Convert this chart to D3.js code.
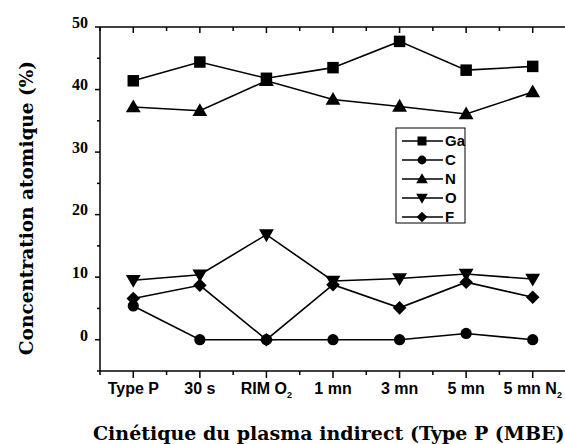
<!DOCTYPE html>
<html>
<head>
<meta charset="utf-8">
<script src="https://cdn.jsdelivr.net/npm/d3@7"></script>
<style>
  body { margin: 0; background: #fff; }
  svg { display: block; }
</style>
</head>
<body>
<div id="chart"></div>
<script>
// Categories (x axis)
var catLabels = ['Type P', '30 s', 'RIM O', '1 mn', '3 mn', '5 mn', '5 mn N'];
var catSubs = ['', '', '2', '', '', '', '2'];

// Series values (%)
var seriesNames = ['Ga', 'C', 'N', 'O', 'F'];
var gaValues = [41.4, 44.4, 41.8, 43.5, 47.7, 43.1, 43.7];
var cValues = [5.4, 0, 0, 0, 0, 1.0, 0];
var nValues = [37.2, 36.6, 41.4, 38.4, 37.3, 36.1, 39.6];
var oValues = [9.5, 10.4, 16.8, 9.4, 9.8, 10.5, 9.7];
var fValues = [6.6, 8.7, 0, 8.8, 5.1, 9.2, 6.8];

var yTicks = [0, 10, 20, 30, 40, 50];

var series = [
    {name: 'Ga', values: gaValues, symbol: 'square'},
    {name: 'C', values: cValues, symbol: 'circle'},
    {name: 'N', values: nValues, symbol: 'up'},
    {name: 'O', values: oValues, symbol: 'down'},
    {name: 'F', values: fValues, symbol: 'diamond'}
];

var width = 565, height = 444;
var margin = {top: 27, right: 0, bottom: 73, left: 100};

var svg = d3.select('#chart').append('svg')
    .attr('width', width)
    .attr('height', height);

var x = d3.scaleLinear().domain([0.5, 7.5]).range([margin.left, 566]);
var y = d3.scaleLinear().domain([-5, 50]).range([height - margin.bottom, margin.top]);

// Marker shape helper
function marker(sel, type, s) {
    if (type === 'square') {
        sel.append('path').attr('d', d3.symbol(d3.symbolSquare, s * s)());
    } else if (type === 'circle') {
        sel.append('path').attr('d', d3.symbol(d3.symbolCircle, Math.PI * s * s / 4.2)());
    } else if (type === 'up') {
        sel.append('path').attr('d', d3.symbol(d3.symbolTriangle, s * s * 0.72)()).attr('transform', 'translate(0,1)');
    } else if (type === 'down') {
        sel.append('path').attr('d', d3.symbol(d3.symbolTriangle, s * s * 0.72)()).attr('transform', 'translate(0,-1) rotate(180)');
    } else if (type === 'diamond') {
        sel.append('path').attr('d', d3.symbol(d3.symbolSquare, s * s * 0.7)()).attr('transform', 'rotate(45)');
    }
}

var axisG = svg.append('g').attr('stroke', '#000').attr('stroke-width', 1.5).attr('fill', 'none');

// Frame
axisG.append('line').attr('x1', x(0.5)).attr('x2', x(7.5)).attr('y1', y(50)).attr('y2', y(50));
axisG.append('line').attr('x1', x(0.5)).attr('x2', x(7.5)).attr('y1', y(-5)).attr('y2', y(-5));
axisG.append('line').attr('x1', x(0.5)).attr('x2', x(0.5)).attr('y1', y(50)).attr('y2', y(-5));

// X ticks (bottom outward, top inward)
var xMajor = d3.range(1, 8);
var xMinor = d3.range(0.5, 8, 1);
xMajor.forEach(function(v) {
    axisG.append('line').attr('x1', x(v)).attr('x2', x(v)).attr('y1', y(-5)).attr('y2', y(-5) + 7);
    axisG.append('line').attr('x1', x(v)).attr('x2', x(v)).attr('y1', y(50)).attr('y2', y(50) + 6);
});
xMinor.forEach(function(v) {
    axisG.append('line').attr('x1', x(v)).attr('x2', x(v)).attr('y1', y(-5)).attr('y2', y(-5) + 4);
    axisG.append('line').attr('x1', x(v)).attr('x2', x(v)).attr('y1', y(50)).attr('y2', y(50) + 4);
});

// Y ticks (outward)
yTicks.forEach(function(v) {
    axisG.append('line').attr('x1', x(0.5) - 5).attr('x2', x(0.5)).attr('y1', y(v)).attr('y2', y(v));
});
d3.range(-5, 50, 10).forEach(function(v) {
    axisG.append('line').attr('x1', x(0.5) - 3).attr('x2', x(0.5)).attr('y1', y(v)).attr('y2', y(v));
});

// Y tick labels
svg.append('g').selectAll('text')
    .data(yTicks)
    .enter()
    .append('text')
        .attr('x', x(0.5) - 12)
        .attr('y', function(d) { return y(d); })
        .attr('dy', '0.05em')
        .attr('text-anchor', 'end')
        .style('font-family', '"Liberation Serif", serif')
        .style('font-weight', 'bold')
        .style('font-size', '16px')
        .text(function(d) { return d; });

// X tick labels with subscripts
var xl = svg.append('g').selectAll('text')
    .data(catLabels)
    .enter()
    .append('text')
        .attr('x', function(d, i) { return x(i + 1); })
        .attr('y', 394)
        .attr('text-anchor', 'middle')
        .style('font-family', '"Liberation Sans", Arial, sans-serif')
        .style('font-weight', 'bold')
        .style('font-size', '16px');
xl.append('tspan').text(function(d) { return d; });
xl.append('tspan')
    .attr('dy', 4)
    .style('font-size', '9px')
    .text(function(d, i) { return catSubs[i]; });

// Axis titles
svg.append('text')
    .attr('x', 93)
    .attr('y', 440)
    .attr('text-anchor', 'start')
    .style('font-family', '"DejaVu Serif", serif')
    .style('font-weight', 'bold')
    .style('font-size', '19px')
    .text('Cinétique du plasma indirect (Type P (MBE)');

svg.append('text')
    .attr('transform', 'translate(33,' + 208 + ') rotate(-90)')
    .attr('text-anchor', 'middle')
    .style('font-family', '"DejaVu Serif", serif')
    .style('font-weight', 'bold')
    .style('font-size', '18.5px')
    .text('Concentration atomique (%)');

// Lines and markers
var line = d3.line()
    .x(function(d, i) { return x(i + 1); })
    .y(function(d) { return y(d); });

series.forEach(function(s) {
    svg.append('path')
        .attr('fill', 'none')
        .attr('stroke', '#000')
        .attr('stroke-width', 1.6)
        .attr('d', line(s.values));
});
series.forEach(function(s) {
    s.values.forEach(function(v, i) {
        var g = svg.append('g')
            .attr('fill', '#000')
            .attr('transform', 'translate(' + x(i + 1) + ',' + y(v) + ')');
        marker(g, s.symbol, 11.5);
    });
});

// Legend
var legend = svg.append('g').attr('transform', 'translate(396,128)');
legend.append('rect')
    .attr('width', 69).attr('height', 95)
    .attr('fill', '#fff').attr('stroke', '#000').attr('stroke-width', 1);
series.forEach(function(s, i) {
    var ly = 13 + i * 19;
    legend.append('line')
        .attr('x1', 6).attr('x2', 47).attr('y1', ly).attr('y2', ly)
        .attr('stroke', '#000').attr('stroke-width', 1.5);
    var g = legend.append('g').attr('fill', '#000').attr('transform', 'translate(26,' + ly + ')');
    marker(g, s.symbol, 9);
    legend.append('text')
        .attr('x', 49).attr('y', ly).attr('dy', '0.36em')
        .style('font-family', '"Liberation Sans", Arial, sans-serif')
        .style('font-weight', 'bold')
        .style('font-size', '15px')
        .text(s.name);
});
</script>
</body>
</html>
